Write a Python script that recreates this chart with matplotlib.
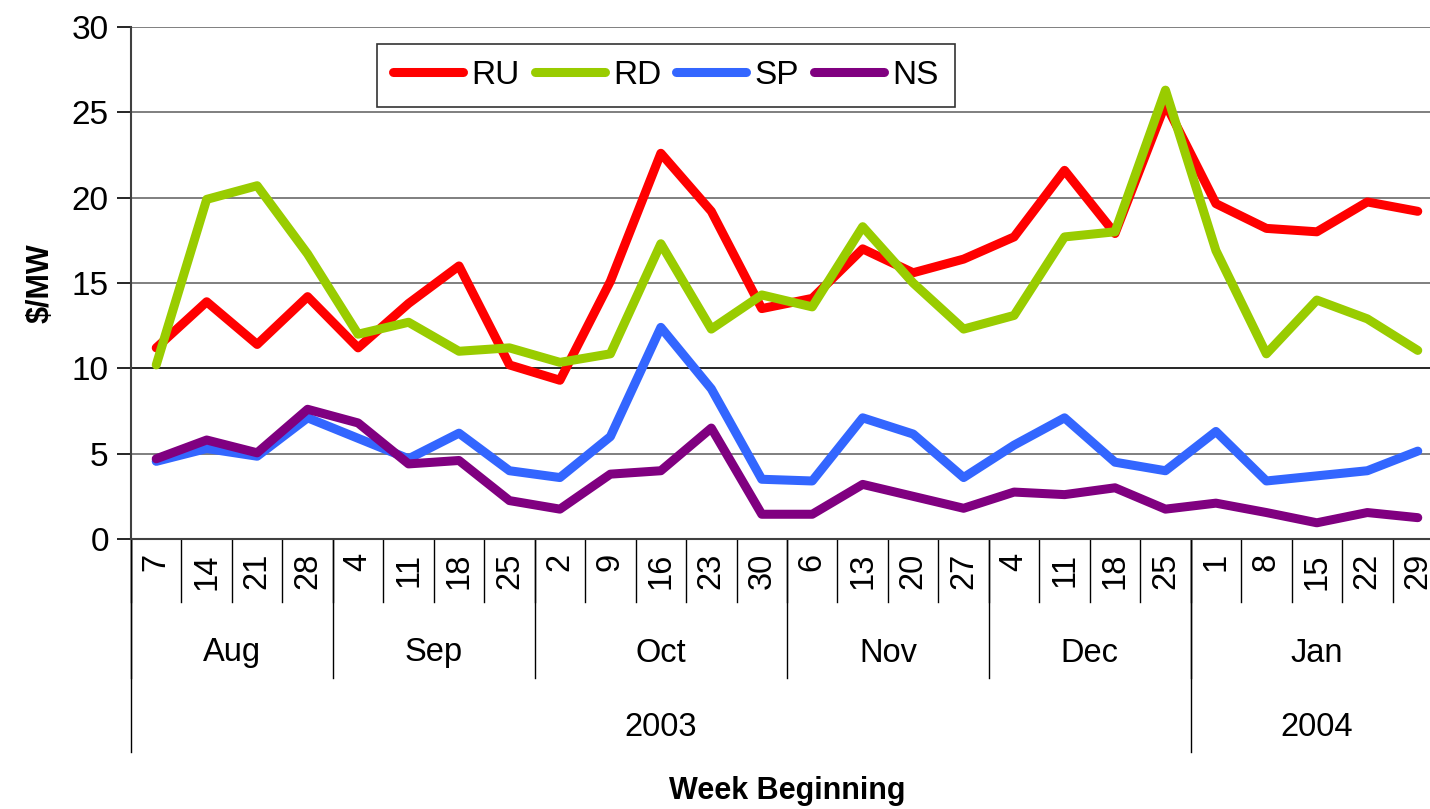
import matplotlib.pyplot as plt
import numpy as np

plt.rcParams['font.family'] = ['Liberation Sans', 'DejaVu Sans']

# week labels, grouped by month and year
weeks = ['7', '14', '21', '28', '4', '11', '18', '25', '2', '9', '16', '23', '30',
         '6', '13', '20', '27', '4', '11', '18', '25', '1', '8', '15', '22', '29']
months = ['Aug', 'Sep', 'Oct', 'Nov', 'Dec', 'Jan']
month_len = [4, 4, 5, 4, 4, 5]
years = ['2003', '2004']
year_len = [21, 5]

ru = [11.2, 13.9, 11.4, 14.2, 11.2, 13.8, 16.0, 10.2, 9.3, 15.1, 22.6, 19.2, 13.5,
      14.1, 17.0, 15.6, 16.4, 17.7, 21.6, 17.9, 25.5, 19.65, 18.2, 18.0, 19.75, 19.2]
rd = [10.2, 19.9, 20.7, 16.7, 12.0, 12.7, 11.0, 11.2, 10.35, 10.85, 17.3, 12.3, 14.3,
      13.6, 18.3, 15.0, 12.3, 13.1, 17.7, 18.0, 26.3, 16.9, 10.85, 14.0, 12.9, 11.05]
sp = [4.55, 5.3, 4.85, 7.1, 5.9, 4.7, 6.2, 4.0, 3.6, 6.0, 12.4, 8.8, 3.5,
      3.4, 7.1, 6.15, 3.6, 5.5, 7.1, 4.5, 4.0, 6.3, 3.4, 3.7, 4.0, 5.15]
ns = [4.7, 5.8, 5.05, 7.6, 6.8, 4.4, 4.6, 2.25, 1.75, 3.8, 4.0, 6.5, 1.45,
      1.45, 3.2, 2.5, 1.8, 2.75, 2.6, 3.0, 1.75, 2.1, 1.55, 0.95, 1.55, 1.25]

series = [('RU', ru, '#FF0000'), ('RD', rd, '#99CC00'),
          ('SP', sp, '#3366FF'), ('NS', ns, '#800080')]

fig = plt.figure(figsize=(14.3, 8.09), dpi=100)
# plot area runs slightly past the right edge of the picture, like the original
ax = fig.add_axes([131/1430, 270/809, 1312/1430, 512/809])

x = np.arange(len(weeks)) + 0.5
for name, vals, col in series:
    ax.plot(x, vals, color=col, lw=6.5, label=name, solid_capstyle='round', zorder=3)

ax.set_xlim(0, len(weeks))
ax.set_ylim(0, 30)
ax.set_yticks(np.arange(0, 31, 5))
ax.tick_params(axis='y', labelsize=24, length=10, width=1.2, direction='out', pad=6)
ax.set_xticks([])
for v in range(5, 31, 5):
    ax.axhline(v, color='black' if v == 10 else '#6a6a6a', lw=1.2, zorder=1)

for s in ['top', 'right']:
    ax.spines[s].set_visible(False)
ax.spines['left'].set_color('#404040')
ax.spines['left'].set_linewidth(1.5)
ax.spines['bottom'].set_color('#404040')
ax.spines['bottom'].set_linewidth(1.5)

# multi level category axis
tr = ax.get_xaxis_transform()
h = 512.0
y_week = -63/h
y_month = -139/h
y_year = -213/h
for i in range(len(weeks) + 1):
    ax.plot([i, i], [0, y_week], transform=tr, color='black', lw=1, clip_on=False)
for i, w in enumerate(weeks):
    ax.text(i + 0.5, -14/h, w, transform=tr, rotation=90, ha='center', va='top', fontsize=23.5)
edges = np.concatenate([[0], np.cumsum(month_len)])
for k, m in enumerate(months):
    ax.plot([edges[k], edges[k]], [0, y_month], transform=tr, color='black', lw=1, clip_on=False)
    ax.text((edges[k] + edges[k+1]) / 2, -114/h, m, transform=tr, ha='center', va='center', fontsize=23.5)
yedges = np.concatenate([[0], np.cumsum(year_len)])
for k, yr in enumerate(years):
    ax.plot([yedges[k], yedges[k]], [0, y_year], transform=tr, color='black', lw=1, clip_on=False)
    ax.text((yedges[k] + yedges[k+1]) / 2, -189/h, yr, transform=tr, ha='center', va='center', fontsize=23.5)

fig.text(787/1430, 1 - 791/809, 'Week Beginning', ha='center', va='center', fontsize=22, fontweight='bold')
fig.text(41/1430, 1 - 283/809, '$/MW', ha='center', va='center', rotation=90, fontsize=22, fontweight='bold')

leg = ax.legend(loc='center', bbox_to_anchor=(666/1430, 1 - 75/809), bbox_transform=fig.transFigure,
                ncol=4, fontsize=24, frameon=True, fancybox=False, handlelength=2.1,
                handletextpad=0.25, columnspacing=0.45, borderpad=0.48, borderaxespad=0)
leg.get_frame().set_edgecolor('black')
leg.get_frame().set_linewidth(1.2)

fig.savefig('out.png', dpi=100)
